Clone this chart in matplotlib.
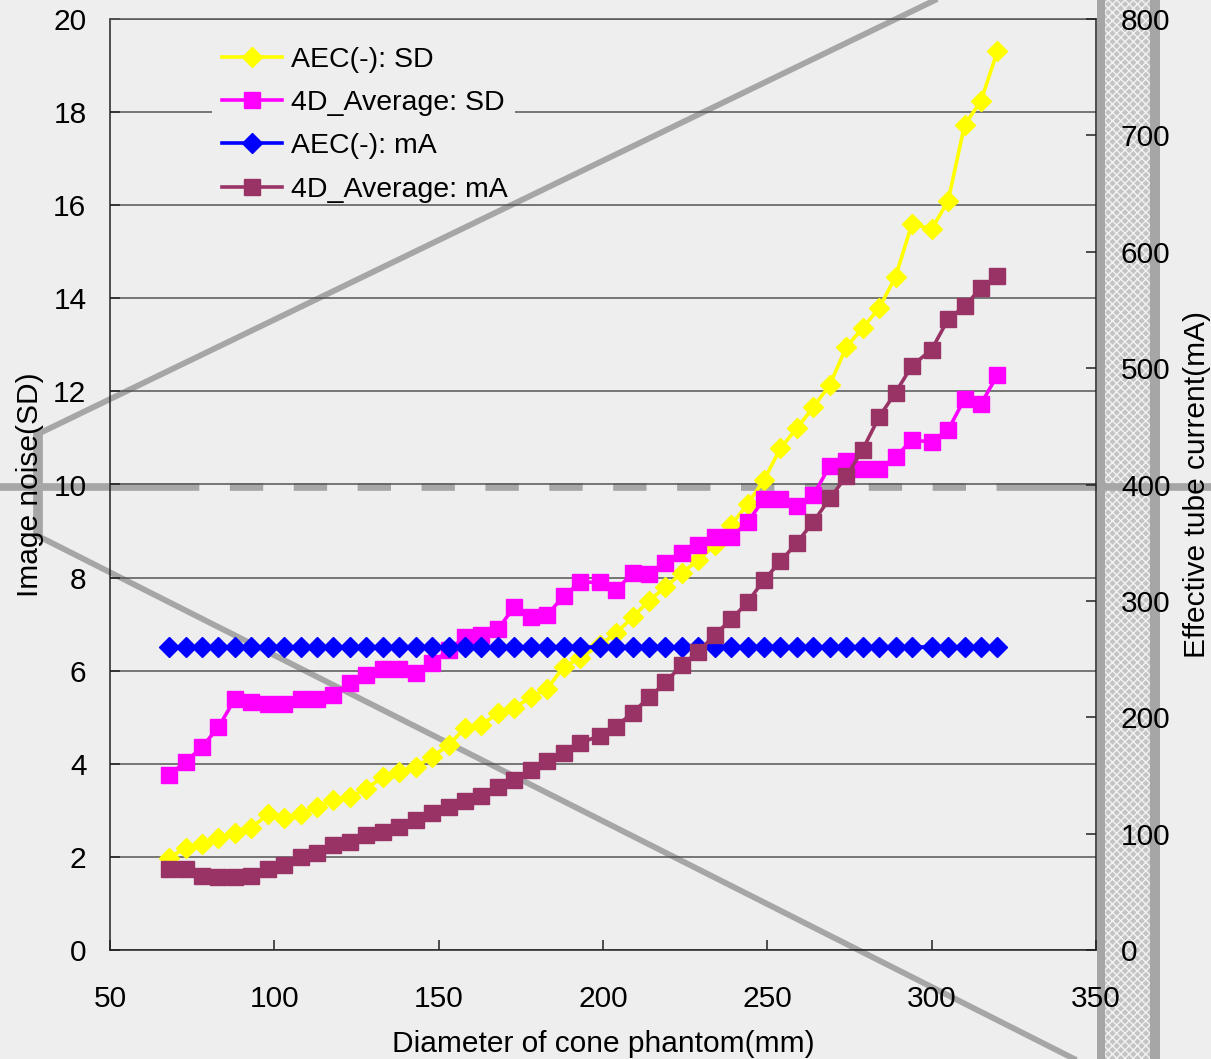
import matplotlib
matplotlib.use("Agg")
import matplotlib.pyplot as plt
from matplotlib.lines import Line2D
from matplotlib.patches import Rectangle

# data
diameter = [68, 73, 78, 83, 88, 93, 98, 103, 108, 113, 118, 123, 128, 133, 138, 143, 148,
            153, 158, 163, 168, 173, 178, 183, 188, 193, 199, 204, 209, 214, 219, 224, 229,
            234, 239, 244, 249, 254, 259, 264, 269, 274, 279, 284, 289, 294, 300, 305, 310,
            315, 320]

sd_aec = [1.98, 2.20, 2.28, 2.41, 2.51, 2.62, 2.92, 2.84, 2.92, 3.07, 3.22, 3.29, 3.46,
          3.72, 3.82, 3.93, 4.15, 4.40, 4.77, 4.83, 5.09, 5.20, 5.43, 5.61, 6.08, 6.27,
          6.55, 6.81, 7.15, 7.50, 7.80, 8.10, 8.38, 8.70, 9.13, 9.58, 10.10, 10.78, 11.21,
          11.66, 12.14, 12.95, 13.36, 13.79, 14.46, 15.60, 15.49, 16.09, 17.72, 18.24, 19.31]

sd_4d = [3.76, 4.04, 4.36, 4.79, 5.39, 5.33, 5.28, 5.28, 5.39, 5.39, 5.48, 5.74, 5.91,
         6.03, 6.03, 5.95, 6.17, 6.44, 6.72, 6.77, 6.89, 7.37, 7.15, 7.20, 7.60, 7.90,
         7.90, 7.73, 8.10, 8.08, 8.31, 8.53, 8.70, 8.87, 8.87, 9.19, 9.69, 9.69, 9.54,
         9.77, 10.40, 10.50, 10.33, 10.33, 10.59, 10.96, 10.91, 11.17, 11.84, 11.73, 12.35]

ma_aec = [260, 260, 260, 260, 260, 260, 260, 260, 260, 260, 260, 260, 260, 260, 260, 260,
          260, 260, 260, 260, 260, 260, 260, 260, 260, 260, 260, 260, 260, 260, 260, 260,
          260, 260, 260, 260, 260, 260, 260, 260, 260, 260, 260, 260, 260, 260, 260, 260,
          260, 260, 260]

ma_4d = [70, 70, 64, 63, 63, 64, 70, 73, 80, 83, 90, 93, 99, 101, 106, 112, 118, 123, 128,
         132, 140, 146, 155, 162, 169, 178, 184, 192, 204, 217, 230, 245, 256, 271, 284,
         299, 318, 334, 350, 368, 388, 407, 430, 458, 479, 502, 516, 542, 553, 569, 579]

labels = ["AEC(-): SD", "4D_Average: SD", "AEC(-): mA", "4D_Average: mA"]
colors = ["#FFFF00", "#FF00FF", "#0000FF", "#993366"]

W, H = 1211, 1059
BG = "#EEEEEE"
GREY = "#A6A6A6"
FS = 21.5

plt.rcParams["font.family"] = ["Liberation Sans", "DejaVu Sans"]
plt.rcParams["lines.scale_dashes"] = False

fig = plt.figure(figsize=(W / 100, H / 100), dpi=100, facecolor=BG)


def px(x, y):
    # pixel position (top-left origin) -> figure fraction
    return x / W, 1 - y / H


def grey_line(p0, p1, lw, **kw):
    (x0, y0), (x1, y1) = px(*p0), px(*p1)
    fig.add_artist(Line2D([x0, x1], [y0, y1], transform=fig.transFigure,
                          color=GREY, lw=lw, zorder=-5, solid_capstyle="butt", **kw))


# stray background shapes of the original screenshot
grey_line((40, 433), (960, -12), 4.2)
grey_line((40, 537), (1110, 1077), 4.2)
grey_line((38, 431), (38, 539), 7)
x0, _ = px(1097, 0)
x1, _ = px(1160, 0)
fig.add_artist(Rectangle((x0, 0), x1 - x0, 1, transform=fig.transFigure,
                         facecolor=GREY, edgecolor="none", zorder=-5))
x0, _ = px(1105, 0)
x1, _ = px(1150, 0)
fig.add_artist(Rectangle((x0, 0), x1 - x0, 1, transform=fig.transFigure,
                         facecolor="#C4C4C4", edgecolor="#F2F2F2", lw=0,
                         hatch="xxxx", zorder=-5))
grey_line((0, 487), (166, 487), 5.5)
grey_line((166, 487), (1022, 487), 5.5, linestyle=(0, (24, 22)))
grey_line((1022, 487), (1211, 487), 5.5)

# main axes
ax1 = fig.add_axes([110 / W, 1 - 950 / H, (1096 - 110) / W, (950 - 19) / H])
ax1.set_facecolor("none")
ax2 = ax1.twinx()

ax1.plot(diameter, sd_aec, color=colors[0], marker="D", ms=10, mec=colors[0],
         lw=2.6, label=labels[0])
ax1.plot(diameter, sd_4d, color=colors[1], marker="s", ms=11.5, mec=colors[1],
         lw=2.6, label=labels[1])
ax2.plot(diameter, ma_aec, color=colors[2], marker="D", ms=10, mec=colors[2],
         lw=2.6, label=labels[2])
ax2.plot(diameter, ma_4d, color=colors[3], marker="s", ms=11.5, mec=colors[3],
         lw=2.6, label=labels[3])

ax1.set_xlim(50, 350)
ax1.set_ylim(0, 20)
ax2.set_ylim(0, 800)
ax1.set_xticks(range(50, 351, 50))
ax1.set_yticks(range(0, 21, 2))
ax2.set_yticks(range(0, 801, 100))

ax1.yaxis.grid(True, color="#555555", lw=1.1)
ax1.set_axisbelow(True)

for sp in ["left", "bottom"]:
    ax1.spines[sp].set_color("#222222")
    ax1.spines[sp].set_linewidth(1.1)
ax1.spines["top"].set_color("#555555")
ax1.spines["top"].set_linewidth(1.1)
ax1.spines["right"].set_visible(False)
ax2.spines["right"].set_color("#222222")
ax2.spines["right"].set_linewidth(1.1)
for sp in ["left", "bottom", "top"]:
    ax2.spines[sp].set_visible(False)

ax1.tick_params(axis="y", direction="in", length=7, width=1.1, pad=17, labelsize=FS,
                colors="#222222", labelcolor="black")
ax1.tick_params(axis="x", direction="in", length=7, width=1.1, pad=25, labelsize=FS,
                colors="#222222", labelcolor="black")
ax2.tick_params(axis="y", direction="in", length=7, width=1.1, pad=18, labelsize=FS,
                colors="#222222", labelcolor="black")

ax1.set_xlabel("Diameter of cone phantom(mm)", fontsize=FS)
ax1.xaxis.set_label_coords(0.5, -(1030 - 950) / 931)
ax1.set_ylabel("Image noise(SD)", fontsize=FS)
ax1.yaxis.set_label_coords((44 - 110) / 986, 0.5)
ax2.set_ylabel("Effective tube current(mA)", fontsize=FS)
ax2.yaxis.set_label_coords((1183 - 110) / 986, 0.5)

# legend area hides the grid line behind it (box x 212-515, y 35-195 px)
lx0, ly1 = px(212, 35)
lx1, ly0 = px(515, 195)
ax2.add_patch(Rectangle((lx0, ly0), lx1 - lx0, ly1 - ly0, transform=fig.transFigure,
                        facecolor=BG, edgecolor="none", zorder=0.5))

h1, l1 = ax1.get_legend_handles_labels()
h2, l2 = ax2.get_legend_handles_labels()
leg = ax2.legend(h1 + h2, l1 + l2, loc="upper left",
                 bbox_to_anchor=px(218, 43), bbox_transform=fig.transFigure,
                 fontsize=20.5, numpoints=1, handlelength=2.1, handletextpad=0.3,
                 labelspacing=0.6, borderpad=0.15, borderaxespad=0, frameon=False)

fig.savefig("out.png", dpi=100, facecolor=BG)
